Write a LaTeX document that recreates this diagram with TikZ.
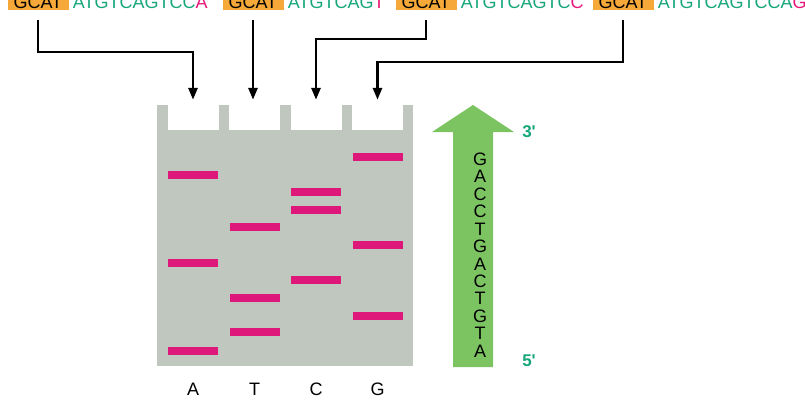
\documentclass[tikz,border=0pt]{standalone}
\usepackage{fontspec}
\setmainfont{Liberation Sans}
\usetikzlibrary{arrows.meta}

\definecolor{gelgray}{RGB}{192,199,191}
\definecolor{bandpink}{RGB}{222,24,122}
\definecolor{gcatorange}{RGB}{246,168,56}
\definecolor{seqgreen}{RGB}{22,166,122}
\definecolor{tipred}{RGB}{230,23,122}
\definecolor{dnagreen}{RGB}{124,196,98}

\begin{document}
\begin{tikzpicture}[x=1pt,y=-1pt,
	every node/.style={font=\fontsize{18}{20}\selectfont},
	gcat/.style={fill=gcatorange, text=black, minimum width=61pt, inner xsep=0pt, inner ysep=2pt, text height=13pt, text depth=0pt, anchor=base},
	seq/.style={text=seqgreen, inner sep=0pt, anchor=base west, xshift=4pt},
	well/.style={fill=white, minimum width=51pt, minimum height=25pt, inner sep=0pt},
	band/.style={fill=bandpink, minimum width=50pt, minimum height=8pt, inner sep=0pt},
	feed/.style={line width=2.8pt, -{Triangle[length=12pt,width=9pt]}, shorten <=10pt, shorten >=5pt},
	prime/.style={text=seqgreen, font=\fontsize{17}{19}\bfseries\selectfont}]
	\useasboundingbox (0,0) rectangle (805,409);
	\clip (0,0) rectangle (805,409);
	% fragments
	\node[gcat] (g1) at (38,8.3) {GCAT};
	\node[seq] (s1) at (g1.base east) {ATGTCAGTCC\textcolor{tipred}{A}};
	\node[gcat] (g2) at (253,8.3) {GCAT};
	\node[seq] (s2) at (g2.base east) {ATGTCAG\textcolor{tipred}{T}};
	\node[gcat] (g3) at (426,8.3) {GCAT};
	\node[seq] (s3) at (g3.base east) {ATGTCAGTC\textcolor{tipred}{C}};
	\node[gcat] (g4) at (623,8.3) {GCAT};
	\node[seq] (s4) at (g4.base east) {ATGTCAGTCCA\textcolor{tipred}{G}};
	% gel
	\fill[gelgray] (157,105) rectangle (413,366);
	\node[well] (wA) at (193,117.5) {};
	\node[well] (wT) at (254.5,117.5) {};
	\node[well] (wC) at (316,117.5) {};
	\node[well] (wG) at (377.5,117.5) {};
	% bands
	\node[band] (a1) at (193,175) {};
	\node[band] (a2) at (193,263) {};
	\node[band] (a3) at (193,351) {};

	\node[band] (t1) at (254.5,227) {};
	\node[band] (t2) at (254.5,298) {};
	\node[band] (t3) at (254.5,332) {};

	\node[band] (c1) at (316,192) {};
	\node[band] (c2) at (316,210) {};
	\node[band] (c3) at (316,280) {};

	\node[band] (n1) at (377.5,157) {};
	\node[band] (n2) at (377.5,245) {};
	\node[band] (n3) at (377.5,316) {};
	% loading arrows
	\coordinate (k1) at (0,52);
	\coordinate (k3) at (0,39);
	\coordinate (k4) at (0,62);
	\draw[feed] (g1.south) -- (g1.south |- k1) -| (wA.north);
	\draw[feed] (g2.south) -- (g2.south |- wT.north);
	\draw[feed] (g3.south) -- (g3.south |- k3) -| (wC.north);
	\draw[feed] (g4.south) -- (g4.south |- k4) -| (wG.north);
	% read direction
	\fill[dnagreen] (453,367) -- (453,132) -- (432,132) -- (473,105)
		-- (514,132) -- (493,132) -- (493,367) -- cycle;
	\node[align=center, inner sep=0pt, font=\fontsize{18}{17.45}\selectfont] (read) at (480,255)
		{G\\A\\C\\C\\T\\G\\A\\C\\T\\G\\T\\A};
	\node[prime] (p3) at (529,132) {3\textquotesingle};
	\node[prime] (p5) at (529,361) {5\textquotesingle};
	% lanes
	\node (lA) at (193,389) {A};
	\node (lT) at (254.5,389) {T};
	\node (lC) at (316,389) {C};
	\node (lG) at (377.5,389) {G};
\end{tikzpicture}
\end{document}
